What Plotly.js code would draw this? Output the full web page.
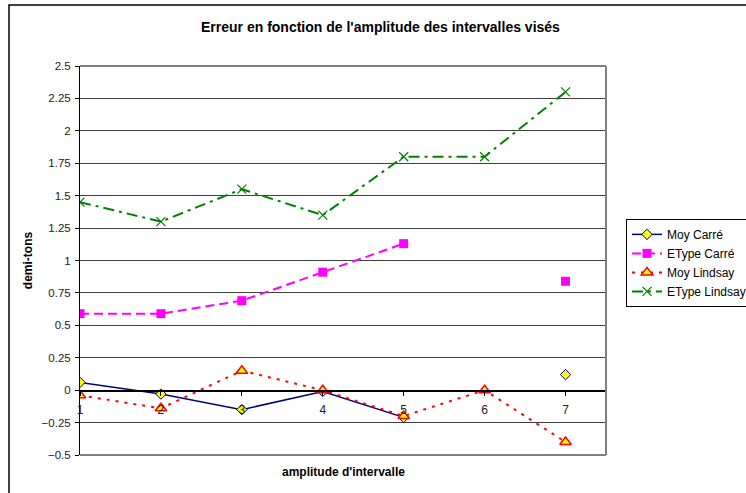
<!DOCTYPE html>
<html>
<head>
<meta charset="utf-8">
<script src="https://cdn.plot.ly/plotly-3.0.1.min.js"></script>
<style>html,body{margin:0;padding:0;background:#fff;}#chart{width:746px;height:493px;}</style>
</head>
<body>
<div id="chart"></div>
<script>
const intervals = [1, 2, 3, 4, 5, 6, 7];
const tickLabels = ['1', '2', '3', '4', '5', '6', '7'];
const moyCarre = [0.06, -0.03, -0.15, -0.01, -0.21, null, 0.12];
const etypeCarre = [0.59, 0.59, 0.69, 0.91, 1.13, null, 0.84];
const moyLindsay = [-0.04, -0.14, 0.15, 0.0, -0.20, 0.0, -0.40];
const etypeLindsay = [1.45, 1.30, 1.55, 1.35, 1.80, 1.80, 2.30];
const seriesNames = ['Moy Carré', 'EType Carré', 'Moy Lindsay', 'EType Lindsay'];

const font = 'Arial, "Liberation Sans", sans-serif';

const traces = [
  {x: intervals, y: moyCarre, name: seriesNames[0], mode: 'lines+markers', connectgaps: false,
   line: {color: '#000080', width: 1.5},
   marker: {symbol: 'diamond', size: 8, color: '#FFFF00', line: {color: '#000080', width: 1}}},
  {x: intervals, y: etypeCarre, name: seriesNames[1], mode: 'lines+markers', connectgaps: false,
   line: {color: '#FF00FF', width: 2, dash: '9px,5px'},
   marker: {symbol: 'square', size: 9, color: '#FF00FF', line: {color: '#FF00FF', width: 0}}},
  {x: intervals, y: moyLindsay, name: seriesNames[2], mode: 'lines+markers',
   line: {color: '#FF0000', width: 2, dash: '3px,6px'},
   marker: {symbol: 'triangle-up', size: 10, color: '#FFFF00', line: {color: '#FF0000', width: 1.5}}},
  {x: intervals, y: etypeLindsay, name: seriesNames[3], mode: 'lines+markers',
   line: {color: '#008000', width: 2, dash: '11px,5px,3px,5px'},
   marker: {symbol: 'x-thin', size: 9, color: '#008000', line: {color: '#008000', width: 1.2}}}
];

const layout = {
  width: 746, height: 493,
  margin: {l: 80, r: 140, t: 66, b: 38, autoexpand: false},
  paper_bgcolor: '#ffffff', plot_bgcolor: '#ffffff',
  font: {family: font, size: 11, color: '#000'},
  title: {text: "Erreur en fonction de l'amplitude des intervalles visés",
          font: {family: font, size: 14, color: '#000', weight: 'bold'},
          xref: 'container', x: 0.51, xanchor: 'center', yref: 'container', y: 0.945, yanchor: 'middle'},
  xaxis: {range: [1, 7.5], anchor: 'free', position: 1/6, side: 'bottom',
          tickvals: intervals, ticktext: tickLabels, ticks: 'outside', ticklen: 4, tickcolor: '#000', tickwidth: 1,
          showline: true, linecolor: '#000', linewidth: 1.5, showgrid: false, zeroline: false,
          ticklabelstandoff: 4, tickfont: {family: font, size: 12, color: '#222'}},
  yaxis: {range: [-0.5, 2.5], dtick: 0.25, tick0: 0, showgrid: true, gridcolor: '#404040', gridwidth: 1,
          zeroline: false, showline: true, linecolor: '#000', linewidth: 1,
          ticks: 'outside', ticklen: 4, tickcolor: '#000', ticklabelstandoff: 2,
          tickfont: {family: font, size: 11.5, color: '#222'},
          title: {text: 'demi-tons', font: {family: font, size: 12, color: '#000', weight: 'bold'}, standoff: 6}},
  showlegend: true,
  legend: {x: 1.038, y: 0.607, xanchor: 'left', yanchor: 'top', bgcolor: '#fff', bordercolor: '#000', borderwidth: 1,
           font: {family: font, size: 12, color: '#000'}, tracegroupgap: 0},
  annotations: [
    {text: "amplitude d'intervalle", xref: 'paper', yref: 'paper', x: 0.5, y: (455 - 472) / 389,
     xanchor: 'center', yanchor: 'middle', showarrow: false,
     font: {family: font, size: 12, color: '#000', weight: 'bold'}}
  ],
  shapes: [
    {type: 'line', xref: 'paper', yref: 'paper', x0: 0, x1: 1, y0: 1, y1: 1, line: {color: '#808080', width: 2}},
    {type: 'line', xref: 'paper', yref: 'paper', x0: 1, x1: 1, y0: 0, y1: 1, line: {color: '#808080', width: 2}},
    {type: 'line', xref: 'paper', yref: 'paper', x0: 0, x1: 1, y0: 0, y1: 0, line: {color: '#808080', width: 2}},
    {type: 'rect', xref: 'paper', yref: 'paper', x0: (9 - 80) / 526, x1: (760 - 80) / 526, y0: (455 - 510) / 389, y1: (455 - 5) / 389,
     line: {color: '#000', width: 1.5}, fillcolor: 'rgba(0,0,0,0)', layer: 'below'}
  ]
};

Plotly.newPlot('chart', traces, layout, {displayModeBar: false, staticPlot: true});
</script>
</body>
</html>
